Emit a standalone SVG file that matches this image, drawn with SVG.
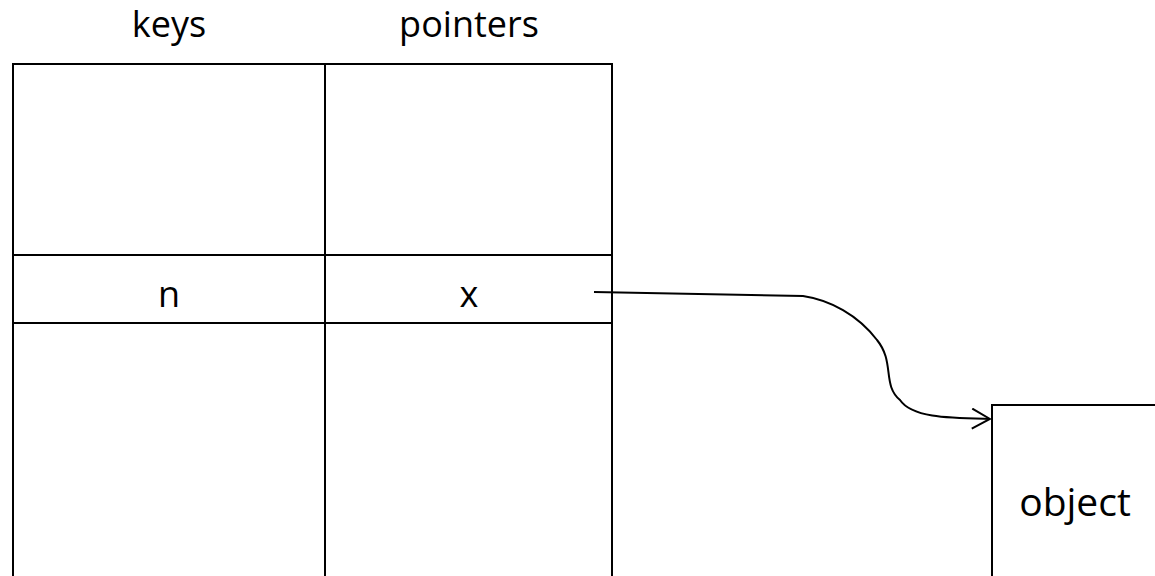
<svg xmlns="http://www.w3.org/2000/svg" width="1155" height="576" viewBox="0 0 1155 576">
<style>
.ln{fill:none;stroke:#000;stroke-width:2}
.t{font-family:"Open Sans","Liberation Sans",sans-serif;font-size:36px;fill:#000;text-anchor:middle}
</style>
<defs>
<marker id="arr" viewBox="0 0 20 22" refX="19" refY="11" markerWidth="20" markerHeight="22" markerUnits="userSpaceOnUse" orient="auto">
<path d="M1,1 L19,11 L1,21" fill="none" stroke="#000" stroke-width="2"/>
</marker>
</defs>
<rect width="1155" height="576" fill="#fff"/>
<g id="header-keys"><text class="t" x="169" y="37">keys</text></g>
<g id="header-pointers"><text class="t" x="469" y="37">pointers</text></g>
<g id="table">
<path class="ln" d="M13,580 L13,64 L612,64 L612,580 M325,64 L325,580 M13,255 L612,255 M13,323 L612,323"/>
</g>
<g id="cell-n"><text class="t" x="169" y="307">n</text></g>
<g id="cell-x"><text class="t" x="469" y="307">x</text></g>
<g id="object">
<path class="ln" d="M992,580 L992,405 L1160,405"/>
<text class="t" x="1075" y="516" style="font-size:39px">object</text>
</g>
<g id="connectors">
<path class="ln" marker-end="url(#arr)" d="M594,292 L803,296 C830,300 858,315 877,340 C895,362 882,385 900,400 C912,418 950,418 990,419"/>
</g>
</svg>
